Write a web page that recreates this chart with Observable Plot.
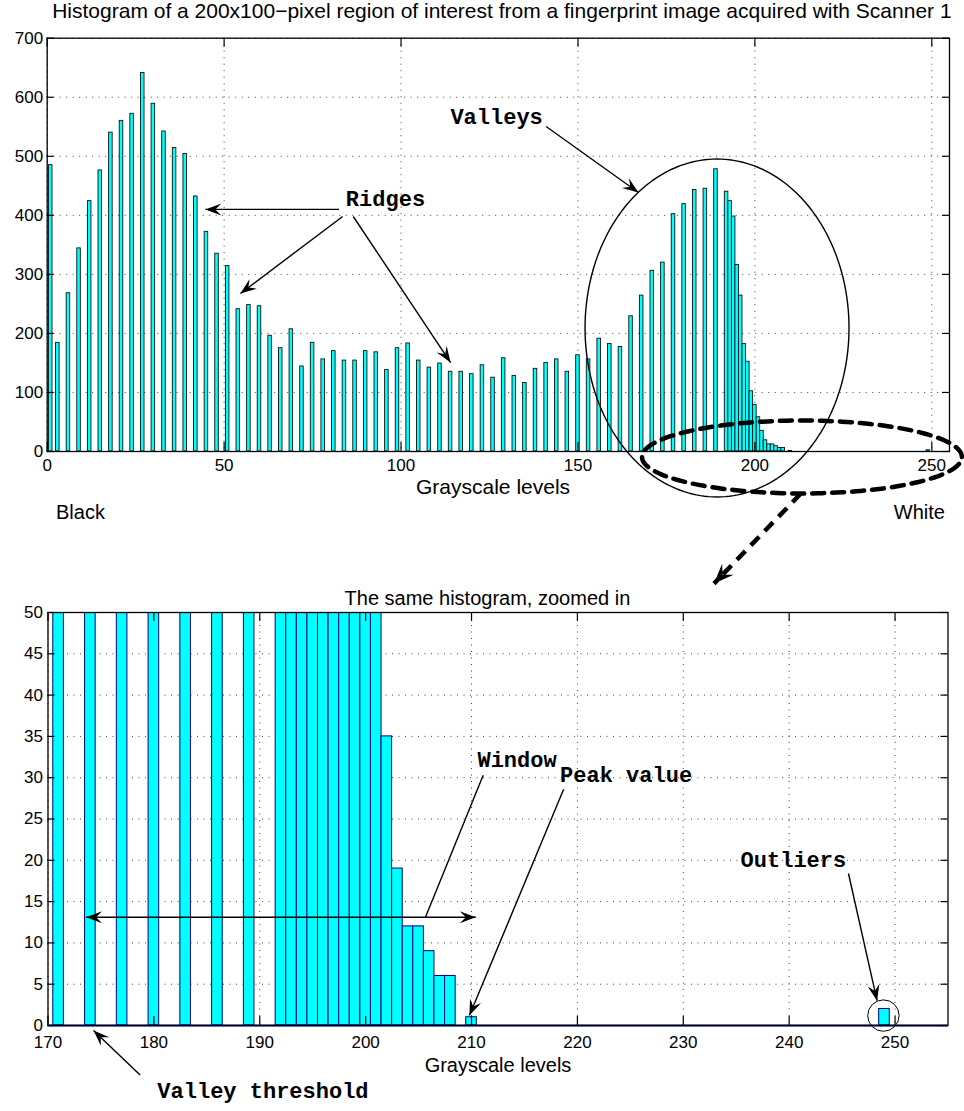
<!DOCTYPE html>
<html><head><meta charset="utf-8">
<script src="https://cdn.jsdelivr.net/npm/d3@7"></script>
<script src="https://cdn.jsdelivr.net/npm/@observablehq/plot@0.6"></script>
<style>
html,body{margin:0;padding:0;background:#fff;}
#wrap{position:relative;width:964px;height:1111px;overflow:hidden;background:#fff;}
#wrap svg{position:absolute;left:0;overflow:visible;}
</style></head><body><div id="wrap"></div>
<script>
// ---------- data ----------
const levels = [1,3,6,9,12,15,18,21,24,27,30,33,36,39,42,45,48,51,54,57,60,63,66,69,72,75,78,81,84,87,90,93,96,99,102,105,108,111,114,117,120,123,126,129,132,135,138,141,144,147,150,153,156,159,162,165,168,171,174,177,180,183,186,189,192,193,194,195,196,197,198,199,200,201,202,203,204,205,206,207,208,210,249];
const counts = [485,184,268,344,424,476,540,560,572,641,589,542,514,504,432,372,335,314,241,248,246,196,175,207,144,184,156,170,154,154,170,168,138,175,183,154,142,149,135,135,131,146,125,158,128,116,140,150,156,135,163,156,191,182,177,229,264,306,320,402,419,443,445,478,440,424,398,316,264,182,152,102,79,58,35,19,12,12,9,6,6,1,2];
const topXTicks = [0,50,100,150,200,250];
const topYTicks = [0,100,200,300,400,500,600,700];
const botXTicks = [170,180,190,200,210,220,230,240,250];
const botYTicks = [0,5,10,15,20,25,30,35,40,45,50];
const topDomainX = [0,255], topDomainY = [0,700];
const botDomainX = [170,255], botDomainY = [0,50];
const topTitle = "Histogram of a 200x100\u2212pixel region of interest from a fingerprint image acquired with Scanner 1";
const botTitle = "The same histogram, zoomed in";
const xLabel = "Grayscale levels";
const endLabels = ["Black","White"];
const noteLabels = ["Ridges","Valleys","Window","Peak value","Outliers","Valley threshold"];

const bins = levels.map((l,i)=>({level:l, count:counts[i]}));

// ---------- styling ----------
const SANS = "'Liberation Sans', Arial, Helvetica, sans-serif";
const MONO = "'Liberation Mono', 'Courier New', monospace";
const CYAN = "#00ffff", NAVY = "#000080";
const W = 964;
const NOTE = 22;

function ellipse(cx, cy, rx, ry, n=200){
  return d3.range(n).map(i=>{const t=2*Math.PI*i/n; return {x:cx+rx*Math.cos(t), y:cy+ry*Math.sin(t)};});
}
function dart(len, half){
  return {draw(ctx){ctx.moveTo(0,0);ctx.lineTo(-len,-half);ctx.lineTo(-len*0.62,0);ctx.lineTo(-len,half);ctx.closePath();}};
}
function arrows(list, sx, sy, opts={}){
  const ang = d=>Math.atan2(-(d.y2-d.y1)*sy,(d.x2-d.x1)*sx)*180/Math.PI;
  return [
    Plot.link(list,{x1:"x1",y1:"y1",x2:"x2",y2:"y2",stroke:"black",strokeWidth:opts.sw||1.4,strokeDasharray:opts.dash}),
    Plot.dot(list,{x:"x2",y:"y2",r:5,symbol:dart(opts.len||16,opts.half||6),rotate:ang,fill:"black",stroke:"none"})
  ];
}
function gridMarks(xt, yt){
  return [
    Plot.gridX(xt,{stroke:"#000",strokeOpacity:0.75,strokeDasharray:"1,5.5",strokeWidth:1}),
    Plot.gridY(yt,{stroke:"#000",strokeOpacity:0.75,strokeDasharray:"1,5.5",strokeWidth:1}),
  ];
}
function frameMarks(xt, yt, pw, ph, padX, padY){
  return [
    Plot.tickX(xt,{x:d=>d,insetTop:ph-9,stroke:"#000",strokeWidth:1.2}),
    Plot.tickX(xt,{x:d=>d,insetBottom:ph-9,stroke:"#000",strokeWidth:1.2}),
    Plot.tickY(yt,{y:d=>d,insetRight:pw-7,stroke:"#000",strokeWidth:1.2}),
    Plot.tickY(yt,{y:d=>d,insetLeft:pw-7,stroke:"#000",strokeWidth:1.2}),
    Plot.frame({stroke:"#000",strokeWidth:1.3}),
    Plot.axisX({ticks:xt,tickSize:0,tickPadding:padX,label:null,fontSize:17,tickFormat:d=>String(d)}),
    Plot.axisY({ticks:yt,tickSize:0,tickPadding:padY,label:null,fontSize:17,tickFormat:d=>String(d)})
  ];
}
const note = (s, x, y) => Plot.text([s],{x, y, text:d=>d, fontFamily:MONO, fontWeight:"bold", fontSize:NOTE, lineAnchor:"middle", fill:"#000"});
const label = (s, x, y, size) => Plot.text([s],{x, y, text:d=>d, fontSize:size, lineAnchor:"middle", fill:"#000"});

const wrap = document.getElementById("wrap");

// ---------- top chart ----------
{
  const h=560, ml=46.7, mr=15, mt=37.7, mb=109;
  const pw=W-ml-mr, ph=h-mt-mb;
  const sx=pw/(topDomainX[1]-topDomainX[0]), sy=ph/(topDomainY[1]-topDomainY[0]);
  const ridgeArrows=[{x1:82.5,y1:410,x2:44.7,y2:410},{x1:83.5,y1:398,x2:54.6,y2:267.6},{x1:86.5,y1:398,x2:114.0,y2:150.7}];
  const valleyArrow=[{x1:141,y1:550.4,x2:167.1,y2:438.7}];
  const p = Plot.plot({
    width:W, height:h, marginLeft:ml, marginRight:mr, marginTop:mt, marginBottom:mb,
    style:{fontFamily:SANS,fontSize:"17px",background:"transparent",color:"#000"},
    x:{domain:topDomainX}, y:{domain:topDomainY},
    marks:[
      ...gridMarks(topXTicks,topYTicks),
      Plot.rect(bins,{x1:d=>d.level-0.5,x2:d=>d.level+0.5,y1:0,y2:"count",fill:CYAN,stroke:"#111",strokeWidth:0.9}),
      ...frameMarks(topXTicks,topYTicks,pw,ph,7,4),
      label(topTitle,128.5,745,21),
      label(xLabel,126,-61,21),
      label(endLabels[0],9.4,-103,20),
      label(endLabels[1],246.5,-103,20),
      note(noteLabels[0],95.6,428.5),
      note(noteLabels[1],127,567.4),
      ...arrows(ridgeArrows,sx,sy),
      ...arrows(valleyArrow,sx,sy),
      Plot.line(ellipse(189.3,209.2,37.3,286.2),{x:"x",y:"y",curve:"linear-closed",stroke:"#000",strokeWidth:1.4}),
      Plot.line(ellipse(213.3,-9.3,45.2,61.8),{x:"x",y:"y",curve:"linear-closed",stroke:"#000",strokeWidth:4.5,strokeDasharray:"12,8"})
    ]
  });
  p.style.top="0px";
  wrap.appendChild(p);
}

// ---------- bottom chart ----------
{
  const top=440, h=671, ml=47.5, mr=16.5, mt=172, mb=86;
  const pw=W-ml-mr, ph=h-mt-mb;
  const sx=pw/(botDomainX[1]-botDomainX[0]), sy=ph/(botDomainY[1]-botDomainY[0]);
  const windowArrows=[{x1:192,y1:13.1,x2:173.6,y2:13.1},{x1:192,y1:13.1,x2:210.4,y2:13.1}];
  const peakArrow=[{x1:218.7,y1:28.6,x2:209.8,y2:1.2}];
  const outArrow=[{x1:245.6,y1:18.4,x2:248.3,y2:3.0}];
  const valArrow=[{x1:178.7,y1:-6.0,x2:174.3,y2:-0.6}];
  const zoomArrow=[{x1:241.1,y1:64.4,x2:232.9,y2:53.5}];
  const p = Plot.plot({
    width:W, height:h, marginLeft:ml, marginRight:mr, marginTop:mt, marginBottom:mb,
    style:{fontFamily:SANS,fontSize:"17px",background:"transparent",color:"#000"},
    x:{domain:botDomainX}, y:{domain:botDomainY},
    marks:[
      ...gridMarks(botXTicks,botYTicks),
      Plot.rect(bins.filter(d=>d.level>=170),{x1:d=>d.level-0.5,x2:d=>d.level+0.5,y1:0,y2:"count",fill:CYAN,stroke:NAVY,strokeWidth:1,clip:true}),
      Plot.ruleY([0],{stroke:NAVY,strokeWidth:2}),
      ...frameMarks(botXTicks,botYTicks,pw,ph,10,5),
      label(botTitle,211.5,51.7,20),
      label(xLabel,212.5,-4.8,20),
      note(noteLabels[2],214.3,32.2),
      note(noteLabels[3],224.6,30.3),
      note(noteLabels[4],240.4,20.1),
      note(noteLabels[5],190.3,-7.9),
      Plot.link([{x1:205.65,y1:13.1,x2:211.1,y2:30.3}],{x1:"x1",y1:"y1",x2:"x2",y2:"y2",stroke:"#000",strokeWidth:1.4}),
      ...arrows(windowArrows,sx,sy),
      ...arrows(peakArrow,sx,sy),
      ...arrows(outArrow,sx,sy),
      ...arrows(valArrow,sx,sy),
      ...arrows(zoomArrow,sx,sy,{sw:4.5,dash:"12,8",len:20,half:8}),
      Plot.dot([{x:248.9,y:1.2}],{x:"x",y:"y",r:15.7,fill:"none",stroke:"#000",strokeWidth:1})
    ]
  });
  p.style.top=top+"px";
  wrap.appendChild(p);
}
</script></body></html>
